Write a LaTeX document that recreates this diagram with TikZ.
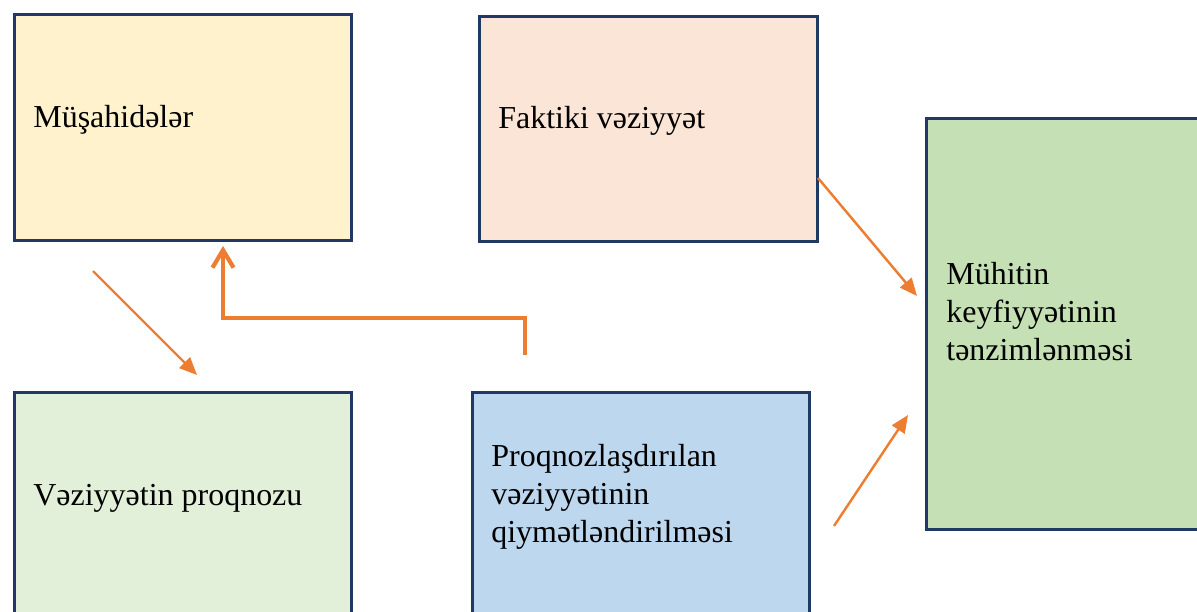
\documentclass[tikz,border=0pt]{standalone}
\usepackage{fontspec}
\setmainfont{Liberation Serif}
\usetikzlibrary{arrows.meta}

\definecolor{navy}{HTML}{203864}
\definecolor{flow}{HTML}{ED7D31}
\definecolor{cream}{HTML}{FFF2CC}
\definecolor{peach}{HTML}{FBE5D6}
\definecolor{leaf}{HTML}{C5E0B4}
\definecolor{mint}{HTML}{E2F0D9}
\definecolor{sky}{HTML}{BDD7EE}

\begin{document}
\begin{tikzpicture}[x=0.02cm, y=-0.02cm,
    panel/.style={draw=navy, line width=1.5pt, anchor=north west, inner sep=0pt},
    caption/.style={anchor=base west, align=left, inner sep=0pt,
      font=\fontsize{18.2}{21.6}\selectfont},
    link/.style={draw=flow, line width=1.4pt, -{Triangle[length=10pt, width=8.5pt]}},
    back/.style={draw=flow, line width=2.4pt, -{Straight Barb[length=10pt, width=12pt]}}]
  \useasboundingbox (0,0) rectangle (1197,612);

  \node[panel, fill=cream, minimum width=6.75cm, minimum height=4.52cm] (obs) at (13,13) {};
  \node[panel, fill=peach, minimum width=6.77cm, minimum height=4.5cm] (fact) at (478,15) {};
  \node[panel, fill=leaf, minimum width=5.6cm, minimum height=8.22cm] (reg) at (925,117) {};
  \node[panel, fill=mint, minimum width=6.75cm, minimum height=5cm] (fore) at (13,391) {};
  \node[panel, fill=sky, minimum width=6.75cm, minimum height=5cm] (eval) at (471,391) {};

  \node[caption] (obstext) at ([shift={(20,114)}]obs.north west) {Müşahidələr};
  \node[caption] (facttext) at ([shift={(20,113)}]fact.north west) {Faktiki vəziyyət};
  \node[caption] (regtext) at ([shift={(21,243)}]reg.north west) {Mühitin\\keyfiyyətinin\\tənzimlənməsi};
  \node[caption] (foretext) at ([shift={(20,114)}]fore.north west) {Vəziyyətin proqnozu};
  \node[caption] (evaltext) at ([shift={(20,151)}]eval.north west) {Proqnozlaşdırılan\\vəziyyətinin\\qiymətləndirilməsi};

  \coordinate (a1s) at (93,271);
  \coordinate (a1e) at (197,375);
  \coordinate (a2s) at (525,355);
  \coordinate (a2e) at (223,246);
  \coordinate (a3s) at (818,178);
  \coordinate (a3e) at (917,296);
  \coordinate (a4s) at (834,526);
  \coordinate (a4e) at (908,415);

  \draw[link] (a1s) -- (a1e);
  \draw[back] (a2s) -- ++(0,-37) -| (a2e);
  \draw[link] (a3s) -- (a3e);
  \draw[link] (a4s) -- (a4e);
\end{tikzpicture}
\end{document}
